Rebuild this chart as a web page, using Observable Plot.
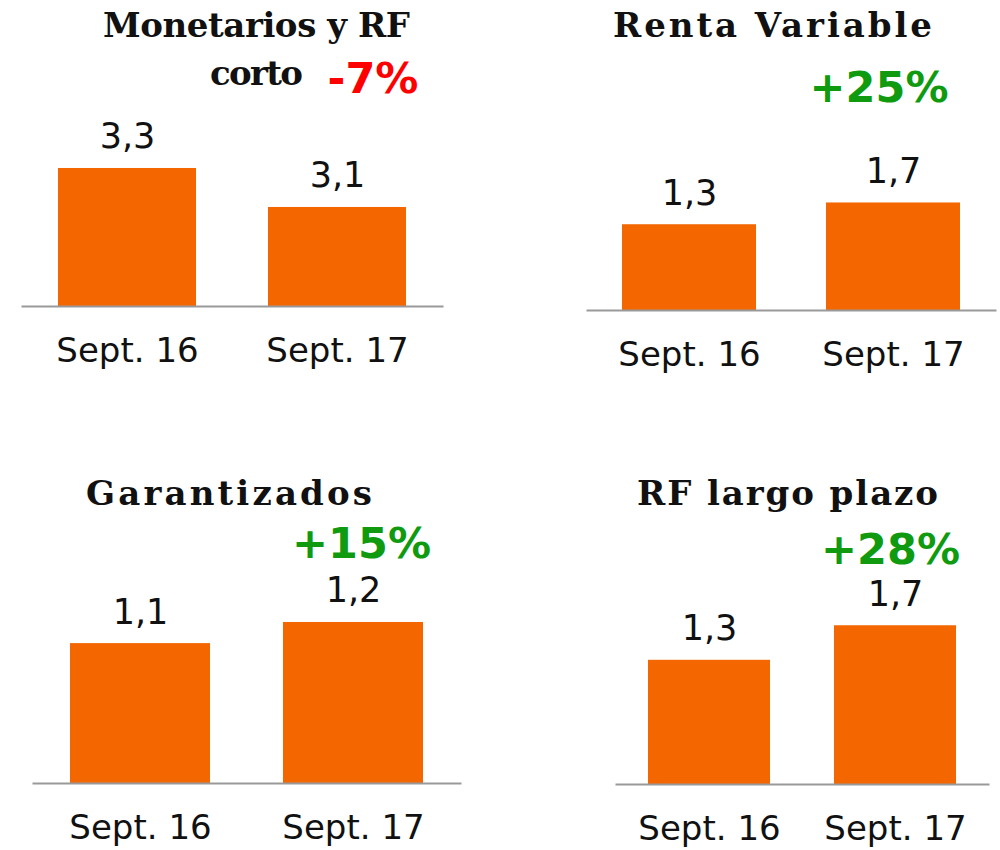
<!DOCTYPE html>
<html><head><meta charset="utf-8">
<script src="https://cdn.jsdelivr.net/npm/d3@7"></script>
<script src="https://cdn.jsdelivr.net/npm/@observablehq/plot@0.6"></script>
<style>
html,body{margin:0;padding:0;background:#fff;}
#root{position:relative;width:1000px;height:850px;overflow:hidden;background:#fff;}
.panel{position:absolute;}
.title{position:absolute;font-family:"DejaVu Serif",serif;font-weight:bold;font-size:34px;line-height:34px;color:#111;white-space:nowrap;transform:translateX(-50%);z-index:2}
.change{position:absolute;font-family:"DejaVu Sans",sans-serif;font-weight:bold;font-size:43px;line-height:43px;white-space:nowrap;transform:translateX(-50%);z-index:2}
</style></head><body><div id="root"></div>
<script>
// ---- data ----
const periods = ["Sept. 16", "Sept. 17"];
const titles = ["Monetarios y RF\ncorto", "Renta Variable", "Garantizados", "RF largo plazo"];
const monetariosRFcorto = [3.30, 3.07];
const rentaVariable = [1.34, 1.68];
const garantizados = [1.06, 1.22];
const rfLargoPlazo = [1.33, 1.70];
const changes = ["-7%", "+25%", "+15%", "+28%"];

// ---- styling / layout ----
const barColor = "#f46700";
const upColor = "#0f9a0f";
const downColor = "#ff0000";
const series = [monetariosRFcorto, rentaVariable, garantizados, rfLargoPlazo];
const layout = [
  {left: 0,   top: 0,   width: 500, height: 380, ml: 22,  mr: 58, mt: 100, mb: 74, domain: [2.486, 3.701],
   titleX: 256.5, titleBase: [37, 85], titleWidth: [307, 93], changeX: 373, changeBase: 93},
  {left: 500, top: 0,   width: 500, height: 384, ml: 87,  mr: 5,  mt: 100, mb: 74, domain: [0, 3.281],
   titleX: 772.5, titleBase: [37], titleWidth: [319], changeX: 879, changeBase: 102},
  {left: 0,   top: 430, width: 500, height: 420, ml: 33,  mr: 40, mt: 100, mb: 67, domain: [0, 1.917],
   titleX: 229, titleBase: [505], titleWidth: [286], changeX: 361.5, changeBase: 558},
  {left: 500, top: 430, width: 500, height: 420, ml: 116, mr: 12, mt: 100, mb: 66, domain: [0, 2.72],
   titleX: 787.5, titleBase: [505], titleWidth: [301], changeX: 890.5, changeBase: 564}
];

const esLocale = d3.formatLocale({decimal: ",", thousands: ".", grouping: [3], currency: ["", " €"]});
const fmt = esLocale.format(".1f");
const root = document.getElementById("root");

series.forEach((values, i) => {
  const L = layout[i];
  const data = periods.map((p, j) => ({period: p, value: values[j]}));
  const chart = Plot.plot({
    width: L.width, height: L.height,
    marginLeft: L.ml, marginRight: L.mr, marginTop: L.mt, marginBottom: L.mb,
    style: {fontFamily: "'DejaVu Sans', sans-serif", color: "#111", background: "transparent"},
    x: {type: "band", domain: periods, paddingInner: 0.343, paddingOuter: 0.171},
    y: {domain: L.domain, axis: null, nice: false, zero: false},
    marks: [
      Plot.barY(data, {x: "period", y: "value", fill: barColor, clip: true}),
      Plot.frame({anchor: "bottom", stroke: "#999", strokeWidth: 2}),
      Plot.text(data, {x: "period", y: "value", text: d => fmt(d.value), dy: -20, lineAnchor: "bottom", fontSize: 35, fill: "#111"}),
      Plot.axisX({tickSize: 0, tickPadding: 31, fontSize: 34, label: null})
    ]
  });
  chart.classList.add("panel");
  chart.style.left = L.left + "px";
  chart.style.top = L.top + "px";
  root.appendChild(chart);

  titles[i].split("\n").forEach((line, k) => {
    const t = document.createElement("div");
    t.className = "title";
    t.textContent = line;
    t.style.left = L.titleX + "px";
    t.style.top = (L.titleBase[k] - 0.846 * 34) + "px";
    root.appendChild(t);
    const w = t.getBoundingClientRect().width;
    const n = line.length;
    const ls = (L.titleWidth[k] - w) / (n - 1);
    t.style.letterSpacing = ls + "px";
    t.style.marginLeft = (ls / 2) + "px";
  });

  const c = document.createElement("div");
  c.className = "change";
  c.textContent = changes[i];
  c.style.color = changes[i].startsWith("-") ? downColor : upColor;
  c.style.left = L.changeX + "px";
  c.style.top = (L.changeBase - 0.846 * 43) + "px";
  root.appendChild(c);
});
</script>
</body></html>
